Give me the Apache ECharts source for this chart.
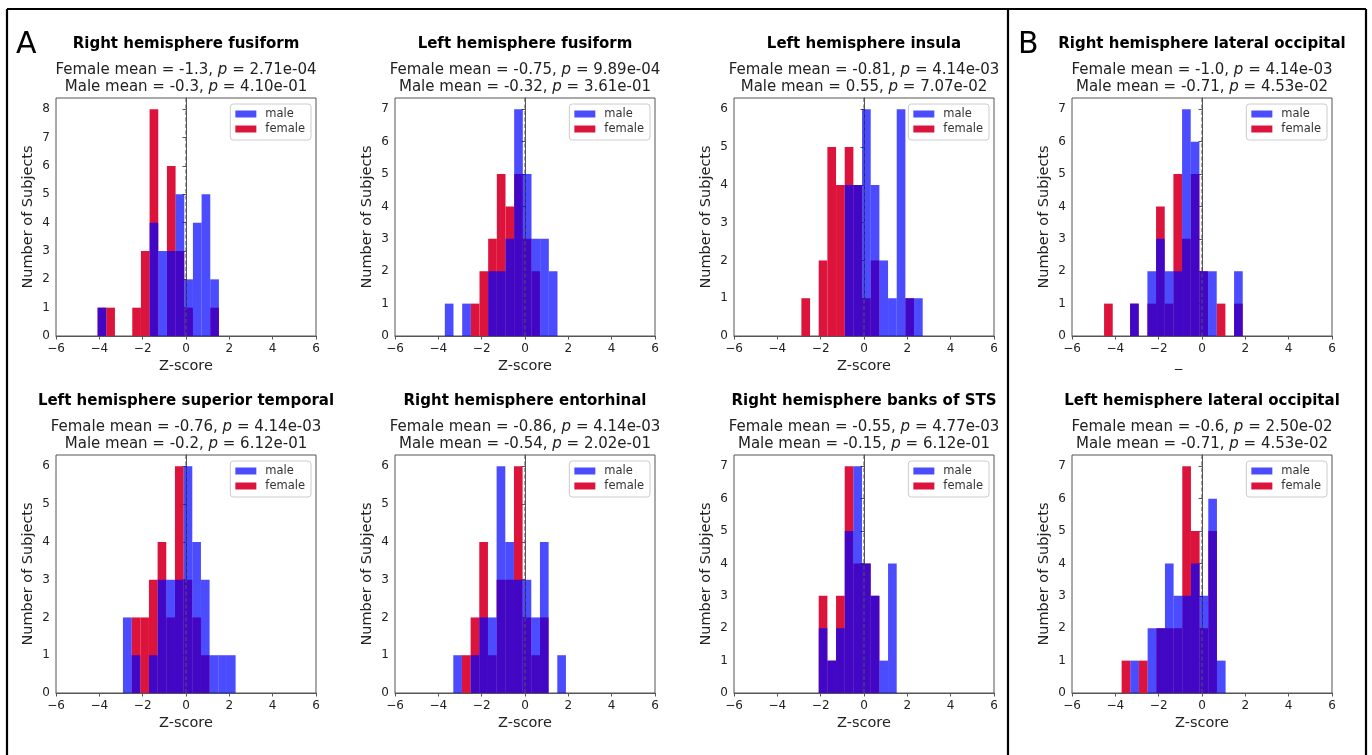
<!DOCTYPE html>
<html><head><meta charset="utf-8">
<script src="https://cdn.jsdelivr.net/npm/echarts@6/dist/echarts.min.js"></script>
<style>html,body{margin:0;padding:0;background:#fff}#c{width:1372px;height:755px}</style>
</head><body><div id="c"></div>
<script>
// ---------- data ----------
const panelTitles = [
  'Right hemisphere fusiform', 'Left hemisphere fusiform', 'Left hemisphere insula', 'Right hemisphere lateral occipital',
  'Left hemisphere superior temporal', 'Right hemisphere entorhinal', 'Right hemisphere banks of STS', 'Left hemisphere lateral occipital'
];
const femaleMean = ['-1.3', '-0.75', '-0.81', '-1.0', '-0.76', '-0.86', '-0.55', '-0.6'];
const femaleP    = ['2.71e-04', '9.89e-04', '4.14e-03', '4.14e-03', '4.14e-03', '4.14e-03', '4.77e-03', '2.50e-02'];
const maleMean   = ['-0.3', '-0.32', '0.55', '-0.71', '-0.2', '-0.54', '-0.15', '-0.71'];
const maleP      = ['4.10e-01', '3.61e-01', '7.07e-02', '4.53e-02', '6.12e-01', '2.02e-01', '6.12e-01', '4.53e-02'];
const xAxisNames = ['Z-score', 'Z-score', 'Z-score', '_', 'Z-score', 'Z-score', 'Z-score', 'Z-score'];
const binStart = [-4.08, -3.70, -2.89, -4.52, -2.91, -3.31, -2.09, -3.71];
const binWidth = 0.4;
const yMaxes = [8.4, 7.35, 6.3, 7.35, 6.3, 6.3, 7.35, 7.35];
const xTicks = [-6, -4, -2, 0, 2, 4, 6];

const male1   = [1,0,0,0,0,0,4,3,3,5,2,4,5,2];
const female1 = [1,1,0,0,1,3,8,0,6,3,1,0,0,1];
const male2   = [1,0,1,0,0,2,2,3,7,5,3,3,2];
const female2 = [0,0,0,1,2,3,5,4,5,3,2,0,0];
const male3   = [0,0,0,0,0,4,4,6,4,2,1,6,1,1];
const female3 = [1,0,2,5,4,5,4,1,2,0,0,0,1,0];
const male4   = [0,0,0,1,0,2,3,2,2,7,6,2,2,0,0,2];
const female4 = [1,0,0,1,0,1,4,1,5,3,5,2,0,1,0,1];
const male5   = [2,1,0,1,3,3,3,6,4,3,1,1,1];
const female5 = [0,2,2,3,4,2,6,3,2,1,0,0,0];
const male6   = [1,0,1,2,2,6,4,3,3,2,4,0,1];
const female6 = [0,1,2,4,1,3,3,6,2,1,2,0,0];
const male7   = [2,1,2,5,7,4,3,1,4];
const female7 = [3,1,3,7,4,4,3,0,0];
const male8   = [0,1,0,2,2,4,3,3,4,3,6,1];
const female8 = [1,0,1,0,2,2,2,7,5,2,5,0];

const maleCounts = [male1, male2, male3, male4, male5, male6, male7, male8];
const femaleCounts = [female1, female2, female3, female4, female5, female6, female7, female8];

// ---------- layout ----------
const W = 1372, H = 755;
const FONT = 'DejaVu Sans';
const colLeft = [56, 395, 734, 1072];
const rowTop = [98, 455];
const gw = 260, gh = 238;
const MALE = 'rgba(0,0,255,0.7)';
const FEMALE = '#DC143C';
const SPINE = '#555';

function histItem(params, api) {
  const c = api.value(2);
  if (!c) return null;
  const a = api.coord([api.value(0), c]);
  const b = api.coord([api.value(1), 0]);
  return { type: 'rect', shape: { x: a[0], y: a[1], width: b[0] - a[0], height: b[1] - a[1] },
           style: { fill: api.visual('color') } };
}
function bins(i, counts) {
  return counts.map((c, k) => [binStart[i] + k * binWidth, binStart[i] + (k + 1) * binWidth, c]);
}
const fmt = v => String(v).replace('-', '\u2212');

const grids = [], xAxes = [], yAxes = [], series = [], legends = [], graphics = [];
for (let i = 0; i < 8; i++) {
  const r = i < 4 ? 0 : 1, c = i % 4;
  const left = colLeft[c], top = rowTop[r];
  grids.push({ left, top, width: gw, height: gh, show: true, borderColor: SPINE, borderWidth: 1, backgroundColor: 'transparent' });
  const isUnderscore = xAxisNames[i] === '_';
  xAxes.push({
    type: 'value', gridIndex: i, min: -6, max: 6, interval: 2,
    name: xAxisNames[i], nameLocation: 'middle', nameGap: isUnderscore ? 10 : 23,
    nameTextStyle: { fontFamily: FONT, fontSize: 14.5, color: '#222', padding: isUnderscore ? [0, 47, 0, 0] : 0 },
    axisLine: { lineStyle: { color: SPINE, width: 1 } },
    axisTick: { length: 3.5, lineStyle: { color: SPINE } },
    axisLabel: { fontFamily: FONT, fontSize: 12, color: '#222', margin: 7, formatter: fmt },
    splitLine: { show: false }
  });
  const yTicks = [];
  for (let t = 0; t <= Math.floor(yMaxes[i]); t++) yTicks.push(t);
  yAxes.push({
    type: 'value', gridIndex: i, min: 0, max: yMaxes[i], interval: 1,
    name: 'Number of Subjects', nameLocation: 'middle', nameGap: 20, nameRotate: 90,
    nameTextStyle: { fontFamily: FONT, fontSize: 14.5, color: '#222' },
    axisLine: { show: true, lineStyle: { color: SPINE, width: 1 } },
    axisTick: { show: true, length: 3.5, lineStyle: { color: SPINE }, customValues: yTicks },
    axisLabel: { fontFamily: FONT, fontSize: 12, color: '#222', margin: 6, customValues: yTicks },
    splitLine: { show: false }
  });
  series.push({
    type: 'custom', name: 'female', xAxisIndex: i, yAxisIndex: i, renderItem: histItem,
    itemStyle: { color: FEMALE }, encode: { x: [0, 1], y: 2 }, data: bins(i, femaleCounts[i]), z: 2, silent: true
  });
  series.push({
    type: 'custom', name: 'male', xAxisIndex: i, yAxisIndex: i, renderItem: histItem,
    itemStyle: { color: MALE }, encode: { x: [0, 1], y: 2 }, data: bins(i, maleCounts[i]), z: 3, silent: true
  });
  series.push({
    type: 'line', name: 'zero', xAxisIndex: i, yAxisIndex: i, data: [[0, 0], [0, yMaxes[i]]],
    symbol: 'none', silent: true, z: 4,
    lineStyle: { color: '#555', width: 1.1, type: [4, 2.5] }
  });
  legends.push({
    orient: 'vertical', right: W - (left + gw) + 5, top: top + 6,
    data: [{ name: 'male' }, { name: 'female' }],
    icon: 'rect', itemWidth: 21, itemHeight: 7, itemGap: 3, selectedMode: false,
    padding: [4, 6, 5, 5], backgroundColor: '#fff', borderColor: '#ccc', borderWidth: 1, borderRadius: 3,
    textStyle: { fontFamily: FONT, fontSize: 11.5, color: '#333', padding: [0, 0, 0, 4] }
  });
  const cx = left + gw / 2;
  graphics.push({ type: 'text', x: cx, y: top - 54, silent: true,
    style: { text: panelTitles[i], fontFamily: FONT, fontSize: 15, fontWeight: 'bold', fill: '#000', align: 'center', verticalAlign: 'middle' } });
  const rich = {
    n: { fontFamily: FONT, fontSize: 15, fill: '#222' },
    i: { fontFamily: FONT, fontSize: 15, fontStyle: 'italic', fill: '#222' }
  };
  graphics.push({ type: 'text', x: cx, y: top - 28, silent: true,
    style: { text: '{n|Female mean = ' + femaleMean[i] + ', }{i|p}{n| = ' + femaleP[i] + '}', rich, align: 'center', verticalAlign: 'middle' } });
  graphics.push({ type: 'text', x: cx, y: top - 11, silent: true,
    style: { text: '{n|Male mean = ' + maleMean[i] + ', }{i|p}{n| = ' + maleP[i] + '}', rich, align: 'center', verticalAlign: 'middle' } });
}
// panel letters
graphics.push({ type: 'text', x: 16, y: 45, silent: true, style: { text: 'A', fontFamily: FONT, fontSize: 30, fill: '#000', align: 'left', verticalAlign: 'middle' } });
graphics.push({ type: 'text', x: 1018, y: 45, silent: true, style: { text: 'B', fontFamily: FONT, fontSize: 30, fill: '#000', align: 'left', verticalAlign: 'middle' } });
// outer frame and divider
const frame = { stroke: '#000', lineWidth: 2.2 };
graphics.push({ type: 'line', silent: true, shape: { x1: 7, y1: 9, x2: 1366, y2: 9 }, style: frame });
graphics.push({ type: 'line', silent: true, shape: { x1: 7, y1: 9, x2: 7, y2: 760 }, style: frame });
graphics.push({ type: 'line', silent: true, shape: { x1: 1366, y1: 9, x2: 1366, y2: 760 }, style: frame });
graphics.push({ type: 'line', silent: true, shape: { x1: 1008, y1: 9, x2: 1008, y2: 760 }, style: frame });

const chart = echarts.init(document.getElementById('c'), null, { renderer: 'canvas' });
chart.setOption({
  animation: false,
  backgroundColor: '#fff',
  grid: grids, xAxis: xAxes, yAxis: yAxes, series, legend: legends, graphic: graphics
});
</script></body></html>
